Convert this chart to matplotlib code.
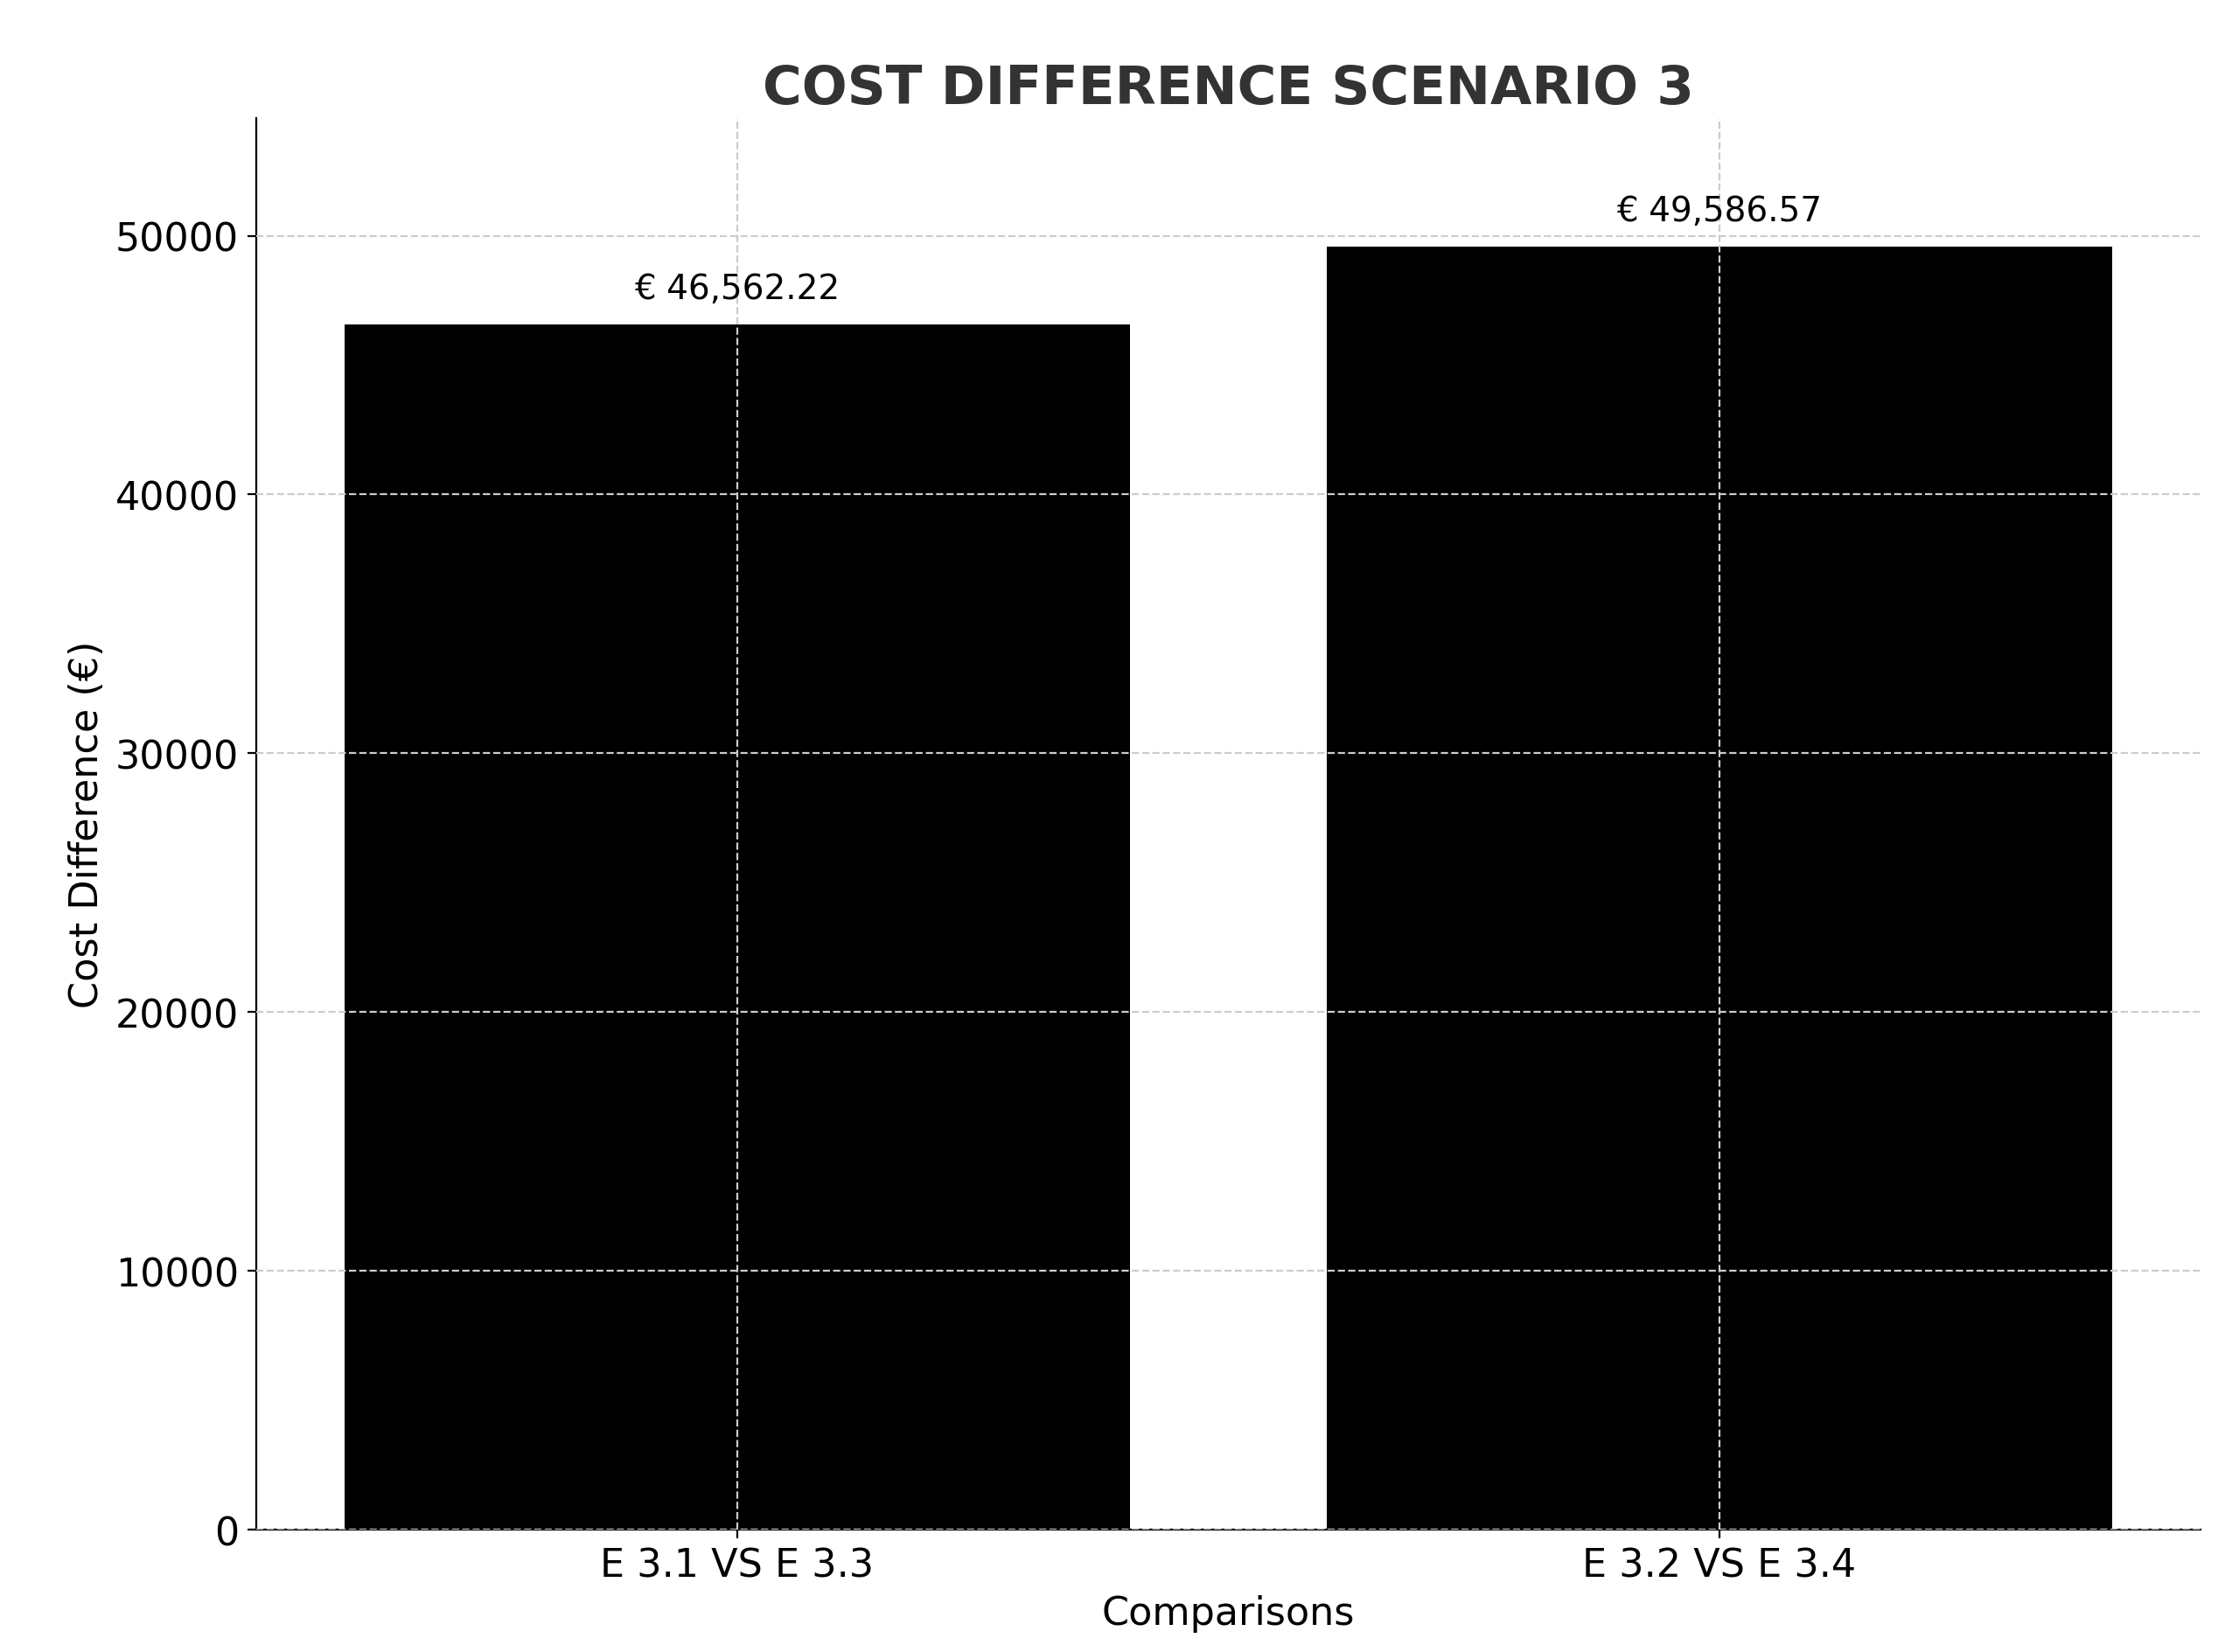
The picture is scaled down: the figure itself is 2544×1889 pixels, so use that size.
import matplotlib
matplotlib.use("Agg")
import matplotlib.pyplot as plt

categories = ["E 3.1 VS E 3.3", "E 3.2 VS E 3.4"]
values = [46562.22, 49586.57]

fig = plt.figure(figsize=(12.72, 9.45), dpi=200)
ax = fig.add_axes([0.115, 0.074, 0.874, 0.854])
bars = ax.bar(categories, values, color="black", width=0.8)
ax.set_ylim(0, max(values) * 1.1)
ax.grid(True, linestyle="--", color="#cccccc", linewidth=0.8)
ax.set_axisbelow(False)
for s in ["top", "right"]:
    ax.spines[s].set_visible(False)
ax.tick_params(labelsize=16)
for b, v in zip(bars, values):
    ax.annotate(f"€ {v:,.2f}", (b.get_x() + b.get_width() / 2, v),
                xytext=(0, 8), textcoords="offset points",
                ha="center", va="bottom", fontsize=14)
ax.set_xlabel("Comparisons", fontsize=16)
ax.set_ylabel("Cost Difference (€)", fontsize=16)
ax.set_title("COST DIFFERENCE SCENARIO 3", fontsize=22, fontweight="bold", color="#333333")
fig.savefig("out.png", dpi=200)
